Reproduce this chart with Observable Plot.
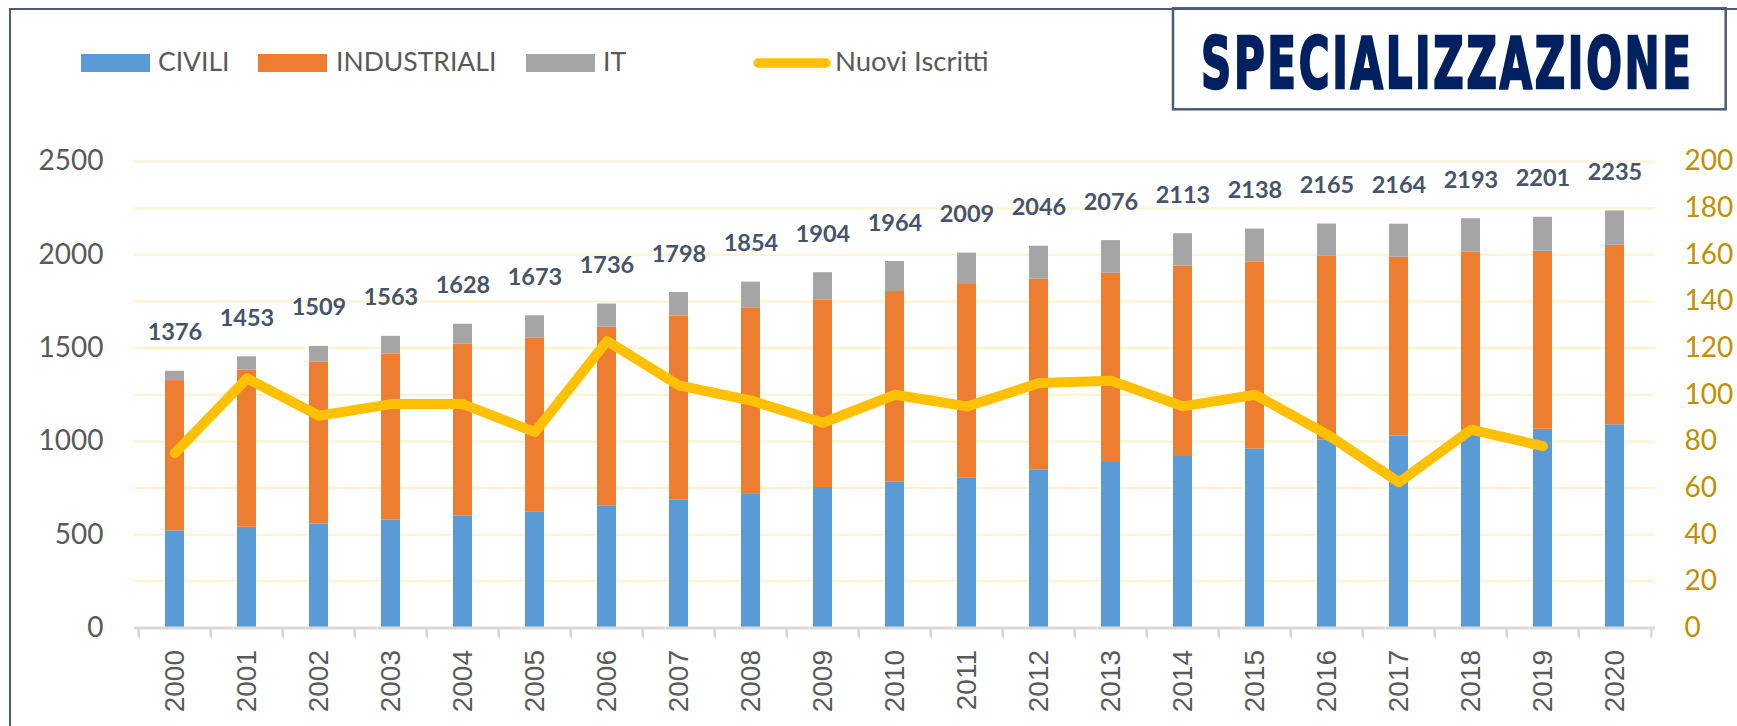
<!DOCTYPE html>
<html>
<head>
<meta charset="utf-8">
<script src="https://cdn.jsdelivr.net/npm/d3@7"></script>
<script src="https://cdn.jsdelivr.net/npm/@observablehq/plot@0.6"></script>
<style>
  html, body { margin: 0; padding: 0; background: #fff; }
  #wrap { position: relative; width: 1737px; height: 726px; overflow: hidden; background: #fff; }
  #header { position: absolute; left: 0; top: 0; }
  #chart { position: absolute; left: 0; top: 120px; }
  #frame { position: absolute; left: 9px; top: 7.5px; width: 2000px; height: 2000px;
           border-left: 2.7px solid #4F5D73; border-top: 2.5px solid #4F5D73;
           pointer-events: none; z-index: 5; }
</style>
</head>
<body>
<div id="wrap">
  <div id="chart"></div>
  <div id="header"></div>
  <div id="frame"></div>
</div>
<script>
// ---------- data ----------
const years = ["2000","2001","2002","2003","2004","2005","2006","2007","2008","2009","2010",
               "2011","2012","2013","2014","2015","2016","2017","2018","2019","2020"];
const civili      = [520,540,558,578,599,620,655,687,720,753,783,805,848,892,924,960,1008,1028,1040,1065,1089];
const industriali = [806,843,866,889,922,935,957,984,996,1004,1020,1036,1021,1009,1015,1000,984,959,974,954,962];
const it          = [50,70,85,96,107,118,124,127,138,147,161,168,177,175,174,178,173,177,179,182,184];
const totali      = [1376,1453,1509,1563,1628,1673,1736,1798,1854,1904,1964,2009,2046,2076,2113,2138,2165,2164,2193,2201,2235];
const nuoviIscritti = [75,107,91,96,96,84,123,104,97.5,88,100,95,105,106,95,100,83,62.5,85,78,null];

const seriesNames  = ["CIVILI","INDUSTRIALI","IT"];
const seriesColors = ["#5B9BD5","#ED7D31","#A5A5A5"];
const lineName  = "Nuovi Iscritti";
const lineColor = "#FFC000";
const leftTicks  = [0,500,1000,1500,2000,2500];
const rightTicks = [0,20,40,60,80,100,120,140,160,180,200];
const titleText = "SPECIALIZZAZIONE";

// ---------- tables ----------
const seriesValues = [civili, industriali, it];
const stacked = [];
years.forEach((y, i) => seriesNames.forEach((s, k) => stacked.push({year: y, series: s, value: seriesValues[k][i]})));
const totalsTable = years.map((y, i) => ({year: y, total: totali[i]}));
const lineTable = years.map((y, i) => ({year: y, v: nuoviIscritti[i]})).filter(d => d.v != null);

const leftMax = leftTicks[leftTicks.length - 1];
const rightMax = rightTicks[rightTicks.length - 1];
const ratio = leftMax / rightMax;

// ---------- layout ----------
const W = 1737, H = 606;
const mL = 134, mR = 82, mT = 41, mB = 98.5;
const step = (W - mL - mR) / years.length;

const plot = Plot.plot({
  width: W, height: H,
  marginLeft: mL, marginRight: mR, marginTop: mT, marginBottom: mB,
  style: {background: "transparent", fontFamily: "Lato, sans-serif"},
  x: {type: "band", domain: years, paddingInner: 0.73, paddingOuter: 0.365, label: null},
  y: {domain: [0, leftMax], label: null},
  color: {domain: seriesNames, range: seriesColors},
  marks: [
    Plot.ruleY(rightTicks.map(v => v * ratio).filter(v => v > 0), {stroke: "#FFF2CC", strokeWidth: 2}),
    Plot.barY(stacked, {x: "year", y: "value", fill: "series"}),
    Plot.ruleY([0], {stroke: "#D9D9D9", strokeWidth: 3}),
    Plot.ruleX(years, {x: d => d, y1: 0, y2: 0, insetBottom: -10, dx: -step / 2, stroke: "#D9D9D9", strokeWidth: 2.5}),
    Plot.ruleX(years.slice(-1), {x: d => d, y1: 0, y2: 0, insetBottom: -10, dx: step / 2, stroke: "#D9D9D9", strokeWidth: 2.5}),
    Plot.line(lineTable, {x: "year", y: d => d.v * ratio, stroke: lineColor, strokeWidth: 10,
                          strokeLinecap: "round", strokeLinejoin: "round"}),
    Plot.text(totalsTable, {x: "year", y: "total", text: d => String(d.total), dy: -38.5,
                            fontSize: 23.5, fontWeight: "bold", fill: "#44546A", fontFamily: "Lato"}),
    Plot.axisX({tickRotate: -90, tickSize: 0, tickPadding: 22, fontSize: 28,
                fontFamily: "Liberation Sans", fill: "#595959", label: null}),
    Plot.axisY({anchor: "left", ticks: leftTicks, tickSize: 0, tickPadding: 31, fontSize: 28,
                fill: "#595959", label: null, tickFormat: d => String(d)}),
    Plot.axisY({anchor: "right", ticks: rightTicks.map(v => v * ratio), tickSize: 0, tickPadding: 29,
                fontSize: 28, fill: "#BF9000", label: null, tickFormat: d => String(Math.round(d / ratio))})
  ]
});
document.getElementById("chart").appendChild(plot);

// ---------- header: legend + title ----------
const hdr = d3.select("#header").append("svg").attr("width", W).attr("height", 120)
  .style("font-family", "Lato, sans-serif");

const swatchX = [81, 258, 526];
const labelX  = [158, 336, 603];
seriesNames.forEach((s, k) => {
  hdr.append("rect").attr("x", swatchX[k]).attr("y", 54).attr("width", 69).attr("height", 18).attr("fill", seriesColors[k]);
  hdr.append("text").attr("x", labelX[k]).attr("y", 71).attr("font-size", 26.5).attr("fill", "#595959").text(s);
});
hdr.append("line").attr("x1", 758).attr("x2", 826).attr("y1", 63).attr("y2", 63)
  .attr("stroke", lineColor).attr("stroke-width", 9.5).attr("stroke-linecap", "round");
hdr.append("text").attr("x", 835).attr("y", 71).attr("font-size", 27.5).attr("fill", "#595959").text(lineName);

hdr.append("rect").attr("x", 1173).attr("y", 8.3).attr("width", 552.7).attr("height", 101)
  .attr("fill", "#fff").attr("stroke", "#4F5D73").attr("stroke-width", 2.5);
hdr.append("text")
  .attr("transform", "translate(1201,88.3) scale(1,1.7)")
  .attr("x", 0).attr("y", 0)
  .attr("textLength", 490).attr("lengthAdjust", "spacing")
  .attr("font-family", "DejaVu Sans, sans-serif").attr("font-weight", "bold").attr("font-size", 42)
  .attr("fill", "#002060").attr("stroke", "#002060").attr("stroke-width", 1.5)
  .text(titleText);
</script>
</body>
</html>
